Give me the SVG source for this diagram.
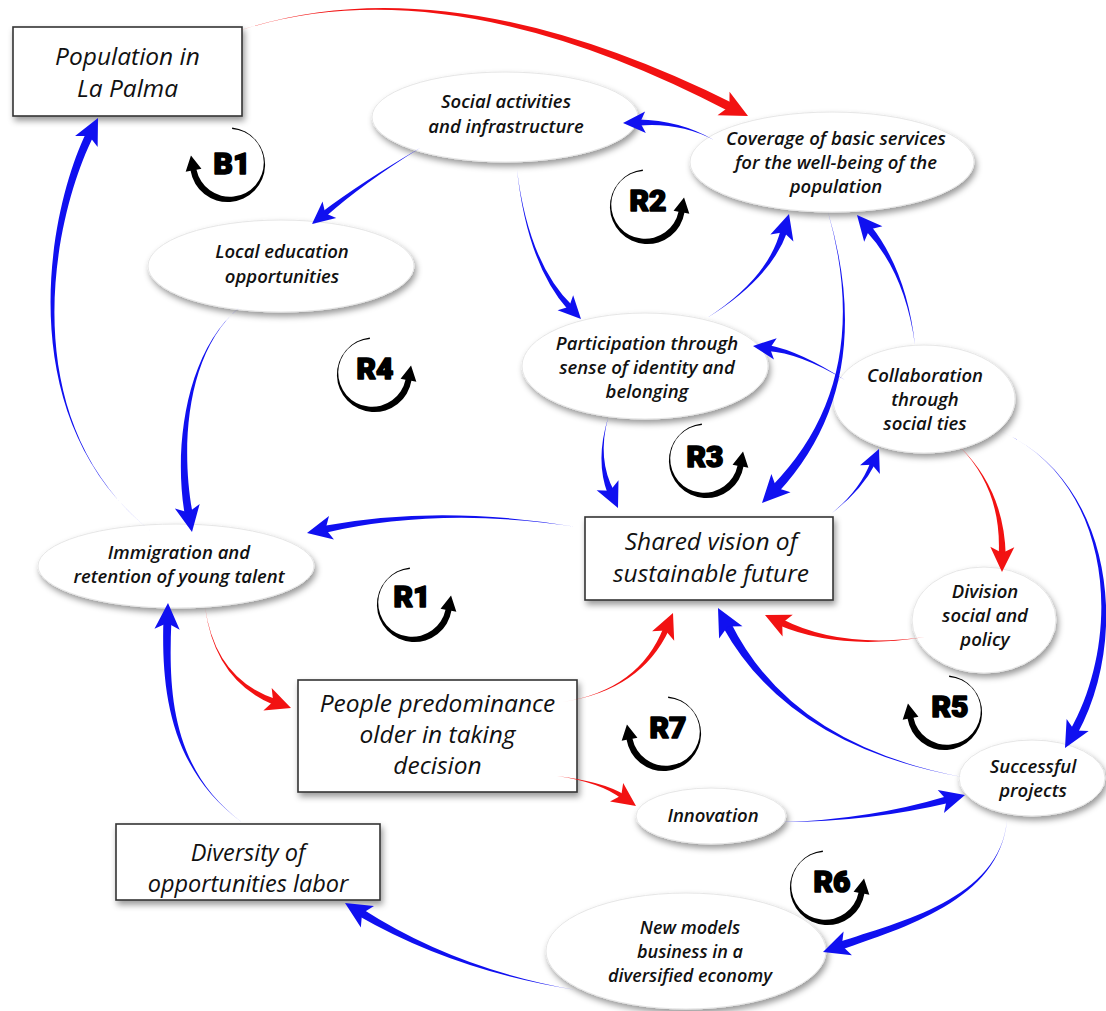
<svg xmlns="http://www.w3.org/2000/svg" xmlns:xlink="http://www.w3.org/1999/xlink" width="1106" height="1011" viewBox="0 0 1106 1011">
  <style>
    .ne { fill:#ffffff; stroke:#e6e6e6; stroke-width:1; filter:url(#sh); }
    .nr { fill:#ffffff; stroke:#333333; stroke-width:1.6; filter:url(#sh); }
    .lbl { font-family:"Open Sans","Liberation Sans",sans-serif; font-style:italic; font-weight:600; fill:#111111; text-anchor:middle; }
    .e { font-size:18.5px; }
    .r { font-size:24.5px; font-weight:500; }
    .pos { fill:#1010f0; }
    .neg { fill:#f21212; }
    .lp { fill:#000000; }
    .lt { font-family:Roboto,"DejaVu Sans",sans-serif; font-weight:900; font-size:30px; fill:#000000; stroke:#000000; stroke-width:1.6; stroke-linejoin:round; text-anchor:middle; }
  </style>
  <defs>
    <filter id="sh" x="-15%" y="-15%" width="135%" height="145%">
      <feDropShadow dx="2" dy="4" stdDeviation="3" flood-color="#000000" flood-opacity="0.4"/>
    </filter>
    <!-- arrowhead pointing along +x, tip at origin -->
    <path id="ah" d="M0,0 L-25,-12 L-19,0 L-25,12 Z"/>
    <!-- tapered loop arrow, arrowhead on the right side -->
    <path id="loopR" d="M-3.20,-36.61 A37.5,37.5 0 1 0 38.41,6.77 L43.33,7.64 L38.05,-8.52 L27.57,4.86 L32.50,5.73 A34,34 0 1 1 -3.07,-35.12 Z"/>
  </defs>

  <rect width="1106" height="1011" fill="#ffffff"/>

  <!-- nodes -->
  <g id="n-population">
    <rect class="nr" x="13" y="27" width="229" height="89"/>
    <text class="lbl r"><tspan x="127.5" y="65">Population in</tspan><tspan x="127.5" y="97">La Palma</tspan></text>
  </g>
  <g id="n-social">
    <ellipse class="ne" cx="505" cy="117" rx="133" ry="45"/>
    <text class="lbl e"><tspan x="506" y="108">Social activities</tspan><tspan x="506" y="133">and infrastructure</tspan></text>
  </g>
  <g id="n-coverage">
    <ellipse class="ne" cx="832" cy="162" rx="142" ry="50"/>
    <text class="lbl e"><tspan x="836" y="145">Coverage of basic services</tspan><tspan x="836" y="169">for the well-being of the</tspan><tspan x="836" y="193">population</tspan></text>
  </g>
  <g id="n-education">
    <ellipse class="ne" cx="281" cy="266" rx="133" ry="46"/>
    <text class="lbl e"><tspan x="282" y="258">Local education</tspan><tspan x="282" y="283">opportunities</tspan></text>
  </g>
  <g id="n-participation">
    <ellipse class="ne" cx="645" cy="366" rx="123" ry="53"/>
    <text class="lbl e"><tspan x="647" y="350">Participation through</tspan><tspan x="647" y="374">sense of identity and</tspan><tspan x="647" y="398">belonging</tspan></text>
  </g>
  <g id="n-collaboration">
    <ellipse class="ne" cx="924" cy="399" rx="91" ry="54"/>
    <text class="lbl e"><tspan x="925" y="382">Collaboration</tspan><tspan x="925" y="406">through</tspan><tspan x="925" y="430">social ties</tspan></text>
  </g>
  <g id="n-shared">
    <rect class="nr" x="585" y="517" width="248" height="83"/>
    <text class="lbl r"><tspan x="711" y="550">Shared vision of</tspan><tspan x="711" y="582">sustainable future</tspan></text>
  </g>
  <g id="n-immigration">
    <ellipse class="ne" cx="176" cy="566" rx="138" ry="42"/>
    <text class="lbl e"><tspan x="179" y="559">Immigration and</tspan><tspan x="179" y="583">retention of young talent</tspan></text>
  </g>
  <g id="n-division">
    <ellipse class="ne" cx="984" cy="620" rx="72" ry="53"/>
    <text class="lbl e"><tspan x="985" y="598">Division</tspan><tspan x="985" y="622">social and</tspan><tspan x="985" y="646">policy</tspan></text>
  </g>
  <g id="n-people">
    <rect class="nr" x="298" y="680" width="279" height="112"/>
    <text class="lbl r"><tspan x="437.5" y="712">People predominance</tspan><tspan x="437.5" y="743">older in taking</tspan><tspan x="437.5" y="774">decision</tspan></text>
  </g>
  <g id="n-innovation">
    <ellipse class="ne" cx="711" cy="816" rx="75" ry="28"/>
    <text class="lbl e" x="713" y="822">Innovation</text>
  </g>
  <g id="n-successful">
    <ellipse class="ne" cx="1032" cy="778" rx="73" ry="38"/>
    <text class="lbl e"><tspan x="1033" y="773">Successful</tspan><tspan x="1033" y="797">projects</tspan></text>
  </g>
  <g id="n-newmodels">
    <ellipse class="ne" cx="686" cy="951" rx="140" ry="58"/>
    <text class="lbl e" style="font-size:18px"><tspan x="690" y="934">New models</tspan><tspan x="690" y="958">business in a</tspan><tspan x="690" y="982">diversified economy</tspan></text>
  </g>
  <g id="n-diversity">
    <rect class="nr" x="116" y="824" width="264" height="76"/>
    <text class="lbl r" style="font-size:23.5px"><tspan x="248" y="861">Diversity of</tspan><tspan x="248" y="892">opportunities labor</tspan></text>
  </g>

  <!-- connectors: tapered bodies plus arrowheads -->
  <g id="connectors">
    <path class="neg" d="M238,31 Q446.39,-36.80 730.81,112.27 L734.91,104.25 Q447.61,-39.20 238,31Z"/>
    <use xlink:href="#ah" class="neg" transform="translate(748,116) rotate(27.1) scale(1.1)"/>

    <path class="pos" d="M714,140 Q679.97,120.10 637.88,119.47 L638.10,125.47 Q680.03,121.90 714,140Z"/>
    <use xlink:href="#ah" class="pos" transform="translate(623,123) rotate(178) scale(0.9)"/>

    <path class="pos" d="M420,148 Q361.43,182.30 321.70,212.17 L325.50,216.81 Q362.57,183.70 420,148Z"/>
    <use xlink:href="#ah" class="pos" transform="translate(312,224) rotate(140.65) scale(0.9)"/>

    <path class="pos" d="M517,170 Q527.35,264.62 568.43,310.28 L572.75,306.12 Q528.65,263.38 517,170Z"/>
    <use xlink:href="#ah" class="pos" transform="translate(581,319) rotate(46.06) scale(0.9)"/>

    <path class="pos" d="M707,318 Q771.01,278.30 787.52,231.30 L780.80,229.30 Q768.99,277.70 707,318Z"/>
    <use xlink:href="#ah" class="pos" transform="translate(789,214) rotate(-73.47)"/>

    <path class="pos" d="M828,212 Q875.37,380.45 771.83,486.13 L778.35,492.33 Q878.63,383.55 828,212Z"/>
    <use xlink:href="#ah" class="pos" transform="translate(762,503) rotate(133.54) scale(1.1)"/>

    <path class="pos" d="M915,345 Q906.80,271.32 870.73,225.61 L865.43,230.17 Q905.20,272.68 915,345Z"/>
    <use xlink:href="#ah" class="pos" transform="translate(857,215) rotate(-130.69)"/>

    <path class="pos" d="M845,380 Q800.11,351.11 768.26,344.92 L767.50,350.88 Q799.89,352.89 845,380Z"/>
    <use xlink:href="#ah" class="pos" transform="translate(753,346) rotate(-172.73) scale(0.9)"/>

    <path class="pos" d="M832,513 Q861.69,490.30 875.26,463.74 L870.68,461.72 Q860.31,489.70 832,513Z"/>
    <use xlink:href="#ah" class="pos" transform="translate(879,449) rotate(-66.30) scale(0.9)"/>

    <path class="pos" d="M577,527 Q439.78,503.97 322.92,526.07 L324.36,532.93 Q440.22,506.03 577,527Z"/>
    <use xlink:href="#ah" class="pos" transform="translate(307,533) rotate(168.11)"/>

    <path class="pos" d="M152,532 C10.45,420.22 53.14,216.55 93.61,135.91 L86.43,132.37 C46.86,213.45 9.55,419.78 152,532Z"/>
    <use xlink:href="#ah" class="pos" transform="translate(98,118) rotate(-63.67) scale(1.05)"/>

    <path class="pos" d="M240,307 C184.51,352.09 173.56,450.63 184.83,515.01 L192.69,513.57 C180.44,449.37 185.49,351.91 240,307Z"/>
    <use xlink:href="#ah" class="pos" transform="translate(192,532) rotate(79.64) scale(1.05)"/>

    <path class="neg" d="M205,607 Q214.69,680.84 274.01,704.94 L276.09,699.30 Q215.31,679.16 205,607Z"/>
    <use xlink:href="#ah" class="neg" transform="translate(291,708) rotate(20.22)"/>

    <path class="pos" d="M243,823 C170.50,770.02 168.50,690.12 171.38,621.13 L163.38,620.85 C161.50,689.88 169.50,769.98 243,823Z"/>
    <use xlink:href="#ah" class="pos" transform="translate(168,603) rotate(-88) scale(1.05)"/>

    <path class="neg" d="M563,702 Q640.83,690.35 669.06,629.81 L663.54,627.45 Q639.17,689.65 563,702Z"/>
    <use xlink:href="#ah" class="neg" transform="translate(673,613) rotate(-66.80)"/>

    <path class="neg" d="M557,776 Q601.57,782.61 621.49,798.81 L624.37,794.73 Q602.43,781.39 557,776Z"/>
    <use xlink:href="#ah" class="neg" transform="translate(636,806) rotate(35.21) scale(0.95)"/>

    <path class="pos" d="M783,822 Q868.27,822.01 949.49,802.78 L947.67,796.02 Q867.73,819.99 783,822Z"/>
    <use xlink:href="#ah" class="pos" transform="translate(965,795) rotate(-15)"/>

    <path class="pos" d="M1007,820 C999.83,899.53 898.84,921.70 838.67,942.27 L841.31,949.81 C901.16,928.30 1000.17,900.47 1007,820Z"/>
    <use xlink:href="#ah" class="pos" transform="translate(823,952) rotate(160.68) scale(1.05)"/>

    <path class="pos" d="M576,990 Q455.62,968.98 362.45,908.94 L358.29,915.78 Q454.38,971.02 576,990Z"/>
    <use xlink:href="#ah" class="pos" transform="translate(345,903) rotate(-148.65) scale(1.05)"/>

    <path class="pos" d="M962,777 Q791.20,744.37 730.82,622.73 L722.86,626.91 Q788.80,745.63 962,777Z"/>
    <use xlink:href="#ah" class="pos" transform="translate(718,608) rotate(-117.72) scale(1.1)"/>

    <path class="neg" d="M925,637 Q840.44,649.05 781.89,619.02 L778.93,625.36 Q839.56,650.95 925,637Z"/>
    <use xlink:href="#ah" class="neg" transform="translate(765,615) rotate(-154.98)"/>

    <path class="neg" d="M960,447 Q1001.95,489.99 998.71,554.96 L1005.71,555.04 Q1004.05,490.01 960,447Z"/>
    <use xlink:href="#ah" class="neg" transform="translate(1002,572) rotate(90.7)"/>

    <path class="pos" d="M990,427 C1109.56,469.76 1126.93,628.31 1070.19,730.30 L1077.19,734.16 C1133.07,631.69 1110.44,470.24 990,427Z"/>
    <use xlink:href="#ah" class="pos" transform="translate(1065,748) rotate(118.85) scale(1.05)"/>

    <path class="pos" d="M608,418 Q595.05,460.44 607.74,494.01 L614.10,491.09 Q596.95,459.56 608,418Z"/>
    <use xlink:href="#ah" class="pos" transform="translate(618,508) rotate(65.38)"/>
  </g>

  <!-- loop markers -->
  <g id="loop-B1">
    <use xlink:href="#loopR" class="lp" transform="translate(229,164) scale(-1,1)"/>
    <text class="lt" x="232" y="174">B1</text>
  </g>
  <g id="loop-R2">
    <use xlink:href="#loopR" class="lp" transform="translate(646,206)"/>
    <text class="lt" x="648" y="211">R2</text>
  </g>
  <g id="loop-R4">
    <use xlink:href="#loopR" class="lp" transform="translate(373,374)"/>
    <text class="lt" x="375" y="379">R4</text>
  </g>
  <g id="loop-R3">
    <use xlink:href="#loopR" class="lp" transform="translate(705,460)"/>
    <text class="lt" x="705" y="467">R3</text>
  </g>
  <g id="loop-R1">
    <use xlink:href="#loopR" class="lp" transform="translate(413,604)"/>
    <text class="lt" x="412" y="607">R1</text>
  </g>
  <g id="loop-R7">
    <use xlink:href="#loopR" class="lp" transform="translate(665,733) scale(-1,1)"/>
    <text class="lt" x="668" y="738">R7</text>
  </g>
  <g id="loop-R5">
    <use xlink:href="#loopR" class="lp" transform="translate(946,712) scale(-1,1)"/>
    <text class="lt" x="950" y="717">R5</text>
  </g>
  <g id="loop-R6">
    <use xlink:href="#loopR" class="lp" transform="translate(826,887)"/>
    <text class="lt" x="832" y="892">R6</text>
  </g>
</svg>
